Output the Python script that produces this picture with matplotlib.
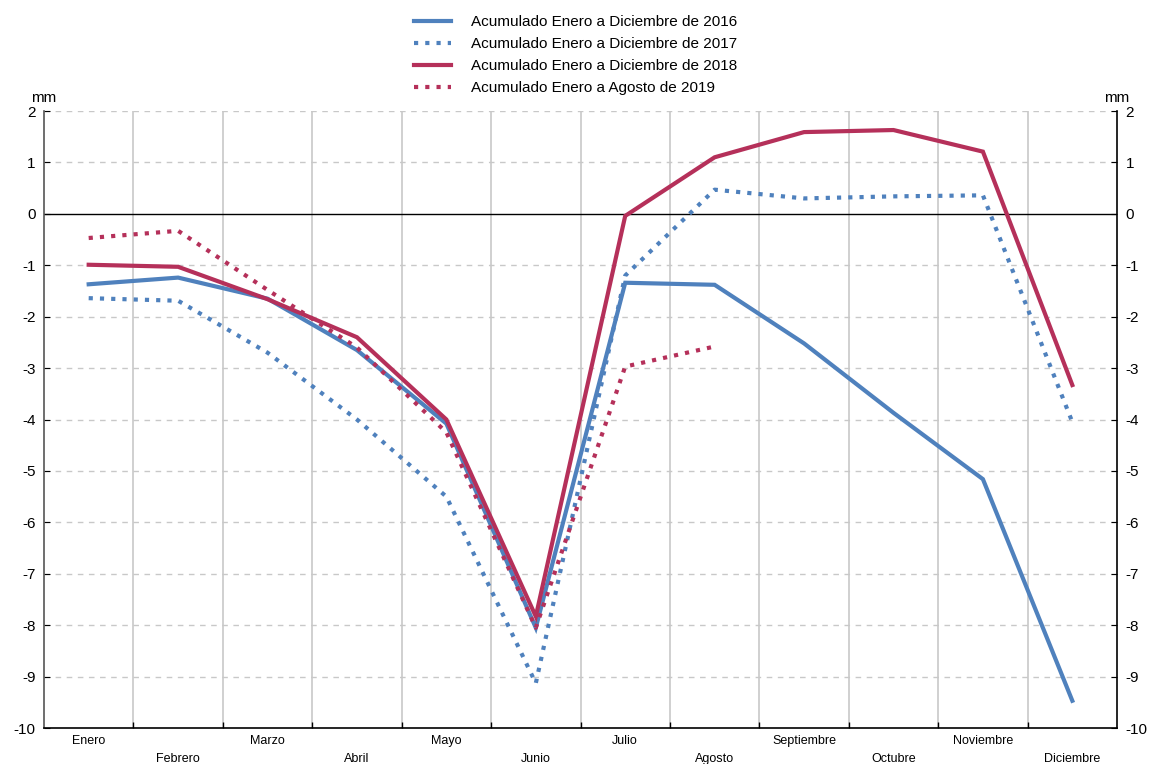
import numpy as np
import matplotlib
matplotlib.use("Agg")
import matplotlib.pyplot as plt

plt.rcParams['font.family'] = ['Liberation Sans', 'DejaVu Sans']
plt.rcParams['axes.unicode_minus'] = False

meses = ["Enero", "Febrero", "Marzo", "Abril", "Mayo", "Junio", "Julio",
         "Agosto", "Septiembre", "Octubre", "Noviembre", "Diciembre"]

# acumulados (mm)
acum_2016 = [-1.37, -1.24, -1.65, -2.65, -4.08, -8.05, -1.34, -1.38, -2.52, -3.87, -5.16, -9.47]
acum_2017 = [-1.64, -1.69, -2.7, -4.0, -5.5, -9.13, -1.2, 0.47, 0.3, 0.34, 0.36, -4.05]
acum_2018 = [-0.99, -1.03, -1.66, -2.4, -4.0, -7.83, -0.04, 1.1, 1.59, 1.63, 1.21, -3.33]
acum_2019 = [-0.47, -0.33, -1.48, -2.6, -4.25, -8.05, -2.97, -2.58]

azul = '#4f81bd'
rojo = '#b5305a'

fig = plt.figure(figsize=(11.51, 7.64), dpi=100)
ax = fig.add_axes([0.0382, 0.0471, 0.9323, 0.8076])

x = np.arange(len(meses))
dots = (0, (1, 1.7))
ax.plot(x, acum_2016, color=azul, lw=3, solid_joinstyle='miter',
        label='Acumulado Enero a Diciembre de 2016')
ax.plot(x, acum_2017, color=azul, lw=3, ls=dots, dash_capstyle='butt',
        label='Acumulado Enero a Diciembre de 2017')
ax.plot(x, acum_2018, color=rojo, lw=3, solid_joinstyle='miter',
        label='Acumulado Enero a Diciembre de 2018')
ax.plot(x[:len(acum_2019)], acum_2019, color=rojo, lw=3, ls=dots, dash_capstyle='butt',
        label='Acumulado Enero a Agosto de 2019')

ax.set_xlim(-0.5, 11.5)
ax.set_ylim(-10, 2)
ax.axhline(0, color='black', lw=1, zorder=1)

# grid
ax.set_yticks(range(-10, 3))
ax.set_yticklabels([str(v) for v in range(-10, 3)])
for v in range(-9, 3):
    if v != 0:
        ax.axhline(v, color='#c8c8c8', lw=1, ls=(0, (4, 4)), zorder=0)
for b in np.arange(0.5, 11, 1):
    ax.axvline(b, color='#c8c8c8', lw=1.2, zorder=0)

ax.set_xticks(np.arange(0.5, 11, 1))
ax.set_xticklabels([])
ax.tick_params(axis='x', direction='in', length=4, width=1, color='black')
ax.tick_params(axis='y', direction='in', length=4, labelsize=11, pad=6,
               left=True, right=True, labelleft=True, labelright=True)
for i, m in enumerate(meses):
    ax.text(i, -0.012 if i % 2 == 0 else -0.04, m, transform=ax.get_xaxis_transform(),
            ha='center', va='top', fontsize=9)

for s in ['left', 'bottom', 'right']:
    ax.spines[s].set_linewidth(1.2)
    ax.spines[s].set_color('black')
ax.spines['left'].set_color('#555555')
ax.spines['top'].set_visible(False)

ax.text(0.0, 1.01, 'mm', transform=ax.transAxes, ha='center', va='bottom', fontsize=11)
ax.text(1.0, 1.01, 'mm', transform=ax.transAxes, ha='center', va='bottom', fontsize=11)

fig.legend(loc='upper center', bbox_to_anchor=(0.5, 0.998), frameon=False, fontsize=11,
           handlelength=2.4, labelspacing=0.52, handletextpad=1.3)

fig.savefig('out.png', dpi=100)
